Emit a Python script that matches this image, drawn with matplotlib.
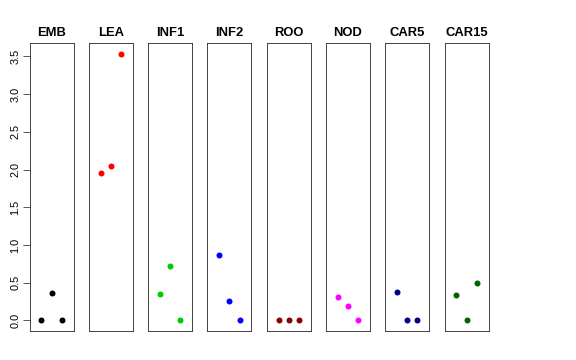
import numpy as np
import matplotlib
matplotlib.use("Agg")
import matplotlib.pyplot as plt

plt.rcParams['font.family'] = ['Liberation Sans', 'DejaVu Sans']

# one panel per tissue, three points each
tissues = ["EMB", "LEA", "INF1", "INF2", "ROO", "NOD", "CAR5", "CAR15"]
colors = ["black", "red", "#00CD00", "blue", "#8B0000", "magenta", "#00008B", "#006400"]
xpos = [1, 2, 3]
vals = [
    [0.0, 0.365, 0.0],
    [1.96, 2.05, 3.53],
    [0.35, 0.715, 0.0],
    [0.865, 0.26, 0.0],
    [0.0, 0.0, 0.0],
    [0.31, 0.185, 0.0],
    [0.38, 0.0, 0.0],
    [0.335, 0.0, 0.50],
]
yticks = [0.0, 0.5, 1.0, 1.5, 2.0, 2.5, 3.0, 3.5]

W, H = 576, 360
fig = plt.figure(figsize=(W / 72, H / 72), dpi=72)

ymax = max(max(v) for v in vals)
ylo, yhi = -0.04 * ymax, ymax * 1.04

left0 = 29.5
pw = 44.0
step = 59.3
top, bot = 43.5, 331.0

for i, (name, c, v) in enumerate(zip(tissues, colors, vals)):
    l = left0 + i * step
    ax = fig.add_axes([l / W, 1 - bot / H, pw / W, (bot - top) / H])
    ax.plot(xpos, v, 'o', color=c, markersize=6, markeredgewidth=0)
    ax.set_xlim(-0.16, 4.16)
    ax.set_ylim(ylo, yhi)
    ax.set_xticks([])
    for s in ax.spines.values():
        s.set_color('#333333')
        s.set_linewidth(0.9)
    ax.set_title(name, fontsize=13, fontweight='bold', pad=7)
    if i == 0:
        ax.set_yticks(yticks)
        ax.set_yticklabels(["%.1f" % t for t in yticks], rotation=90, va='center', fontsize=11)
        ax.tick_params(axis='y', length=7, width=0.8, color='#333333', pad=2)
    else:
        ax.set_yticks([])

fig.savefig("out.png", dpi=72)
